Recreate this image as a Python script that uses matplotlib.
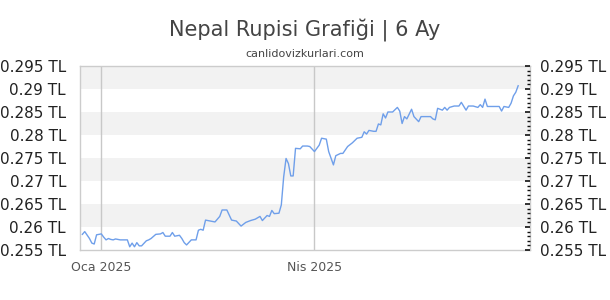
import datetime as dt
import numpy as np
import matplotlib; matplotlib.use('Agg')
import matplotlib.pyplot as plt
from matplotlib.ticker import MultipleLocator, FuncFormatter

# gün (1 Ocak 2025'e göre) ve kur değerleri
DAYS = [-8, -7, -5, -4, -3, -2, 0, 1, 2, 3, 4, 5, 6, 8, 9, 11, 12, 13, 14, 15,
        16, 17, 19, 20, 21, 23, 25, 26, 27, 29, 30, 31, 33, 34, 35, 36, 38, 40, 41, 42,
        43, 44, 48, 50, 51, 53, 55, 57, 59, 61, 63, 65, 67, 68, 70, 71, 72, 73, 75, 76,
        77, 78, 79, 80, 81, 82, 84, 85, 87, 88, 90, 92, 93, 95, 96, 98, 99, 101, 102, 104,
        106, 108, 110, 111, 112, 113, 115, 116, 117, 118, 119, 120, 121, 123, 125, 126,
        127, 128, 129, 131, 132, 134, 135, 137, 139, 140, 141, 142, 144, 145, 146, 147,
        149, 151, 152, 154, 155, 157, 159, 160, 161, 162, 163, 165, 168, 169, 170, 172,
        173, 174, 175, 176]
RATES = [0.2584, 0.2590, 0.2575, 0.2565, 0.2563, 0.2583, 0.2585, 0.2578, 0.2572, 0.2575,
         0.2573, 0.2572, 0.2574, 0.2572, 0.2572, 0.2572, 0.2557, 0.2565, 0.2557, 0.2566,
         0.2559, 0.2559, 0.2570, 0.2572, 0.2575, 0.2584, 0.2585, 0.2588, 0.2580, 0.2580,
         0.2588, 0.2580, 0.2582, 0.2575, 0.2566, 0.2561, 0.2572, 0.2572, 0.2593, 0.2595,
         0.2593, 0.2615, 0.2611, 0.2623, 0.2637, 0.2637, 0.2615, 0.2613, 0.2602, 0.2610,
         0.2614, 0.2617, 0.2623, 0.2614, 0.2625, 0.2623, 0.2636, 0.2629, 0.2630, 0.2648,
         0.2709, 0.2749, 0.2738, 0.2711, 0.2711, 0.2771, 0.2770, 0.2776, 0.2776, 0.2775,
         0.2764, 0.2778, 0.2793, 0.2791, 0.2764, 0.2735, 0.2755, 0.2760, 0.2760, 0.2775,
         0.2783, 0.2793, 0.2795, 0.2807, 0.2802, 0.2810, 0.2808, 0.2808, 0.2824, 0.2822,
         0.2846, 0.2837, 0.2850, 0.2850, 0.2860, 0.2852,
         0.2825, 0.2840, 0.2835, 0.2856, 0.2840, 0.2829, 0.2840, 0.2840, 0.2840, 0.2835,
         0.2833, 0.2858, 0.2854, 0.2860, 0.2854, 0.2860, 0.2863, 0.2863, 0.2871, 0.2854,
         0.2863, 0.2863, 0.2860, 0.2866, 0.2860, 0.2878, 0.2862, 0.2862, 0.2862, 0.2852,
         0.2862, 0.2860, 0.2869, 0.2885, 0.2893, 0.2907]

START = dt.date(2025, 1, 1)
X_RANGE = (-9, 181)
Y_MIN, Y_MAX, Y_STEP = 0.255, 0.295, 0.005
X_TICKS = [dt.date(2025, 1, 1), dt.date(2025, 4, 1)]
X_TICK_LABELS = ['Oca 2025', 'Nis 2025']

TITLE = 'Nepal Rupisi Grafiği | 6 Ay'
SUBTITLE = 'canlidovizkurlari.com'

dates = [START + dt.timedelta(days=d) for d in DAYS]

fig = plt.figure(figsize=(6.1, 3.0), dpi=100)
ax = fig.add_axes([80 / 610, 50 / 300, 450 / 610, 184 / 300])

# alternatif gri bantlar
levels = np.arange(Y_MIN, Y_MAX + 1e-9, Y_STEP)
for i in range(len(levels) - 1):
    if (len(levels) - 2 - i) % 2 == 0:
        ax.axhspan(levels[i], levels[i + 1], color='#f2f2f2', lw=0, zorder=0)

ax.plot(dates, RATES, color='#6f9fea', lw=1.0, zorder=3)

ax.set_xlim(START + dt.timedelta(days=X_RANGE[0]), START + dt.timedelta(days=X_RANGE[1]))
ax.set_ylim(Y_MIN, Y_MAX)
ax.set_xticks(X_TICKS)
ax.set_xticklabels(X_TICK_LABELS)
ax.grid(axis='x', color='#c8c8c8', lw=1.0, zorder=1)
ax.set_axisbelow(True)
ax.tick_params(axis='x', length=0, pad=8, labelsize=9, labelcolor='#555555')

fmt = FuncFormatter(lambda v, _: f'{v:.3f}'.rstrip('0') + ' TL')
ax.yaxis.set_major_locator(MultipleLocator(Y_STEP))
ax.yaxis.set_major_formatter(fmt)
ax.tick_params(axis='y', length=0, pad=10, labelsize=11, labelcolor='#222222')

for s in ax.spines.values():
    s.set_color('#cccccc')
    s.set_linewidth(1.0)

ax2 = ax.twinx()
ax2.set_ylim(Y_MIN, Y_MAX)
ax2.yaxis.set_major_locator(MultipleLocator(Y_STEP))
ax2.yaxis.set_minor_locator(MultipleLocator(0.001))
ax2.yaxis.set_major_formatter(fmt)
ax2.tick_params(axis='y', which='major', direction='in', length=3.5, width=1.2,
                color='#111111', pad=7, labelsize=11, labelcolor='#222222')
ax2.tick_params(axis='y', which='minor', direction='in', length=2, width=1.0, color='#111111')
for s in ax2.spines.values():
    s.set_visible(False)

fig.text(0.5, 1 - 30 / 300, TITLE, ha='center', va='center', fontsize=15, color='#444444')
fig.text(0.5, 1 - 54 / 300, SUBTITLE, ha='center', va='center', fontsize=8, color='#444444')

fig.savefig('out.png', dpi=100)
